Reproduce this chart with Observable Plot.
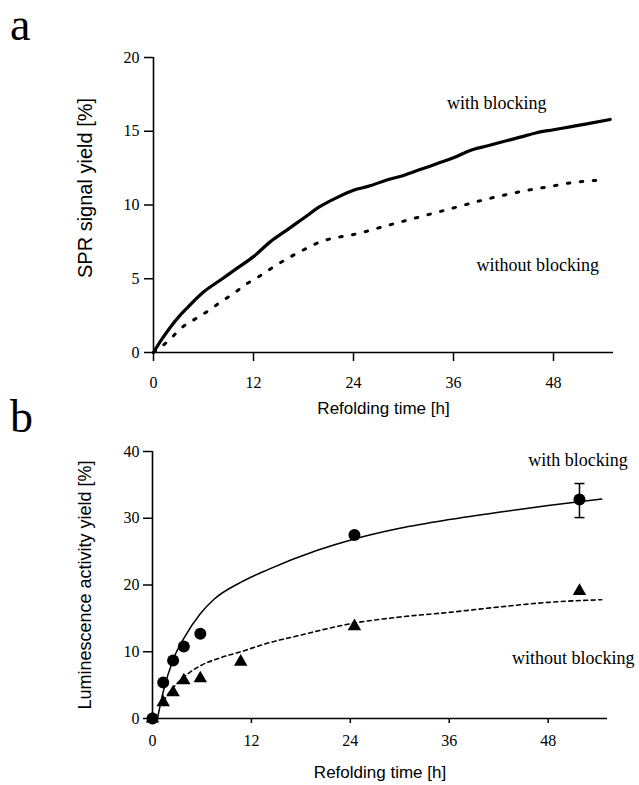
<!DOCTYPE html>
<html>
<head>
<meta charset="utf-8">
<script src="https://cdn.jsdelivr.net/npm/d3@7"></script>
<script src="https://cdn.jsdelivr.net/npm/@observablehq/plot@0.6"></script>
<style>
  html, body { margin: 0; padding: 0; background: white; }
  #root { position: relative; width: 639px; height: 785px; overflow: hidden; background: white; }
  .panel { position: absolute; left: 0; }
  .letter { position: absolute; left: 10px; font-family: "Liberation Serif", serif; font-size: 46px; line-height: 46px; height: 46px; color: #000; }
</style>
</head>
<body>
<div id="root">
  <div class="letter" style="top:2px">a</div>
  <div class="letter" style="top:394px">b</div>
  <div class="panel" id="pa" style="top:0"></div>
  <div class="panel" id="pb" style="top:430px"></div>
</div>
<script>
// ---------- Panel a: SPR signal yield ----------
const aWithTime  = [0, 1, 2, 3, 4, 6, 8, 10, 12, 14, 16, 18, 20, 22, 24, 26, 28, 30, 32, 34, 36, 38, 40, 42, 44, 46, 48, 50, 52, 54.8];
const aWithYield = [0, 0.9, 1.7, 2.4, 3.0, 4.1, 4.9, 5.7, 6.5, 7.5, 8.3, 9.1, 9.9, 10.5, 11.0, 11.3, 11.7, 12.0, 12.4, 12.8, 13.2, 13.7, 14.0, 14.3, 14.6, 14.9, 15.1, 15.3, 15.5, 15.8];
const aWithoutTime  = [0, 2, 3.2, 4.8, 6.5, 8, 9.6, 11.3, 12.8, 14.4, 16.8, 18.5, 20, 22, 24, 28, 32, 36, 40, 44, 48, 50, 54.2];
const aWithoutYield = [0, 0.9, 1.6, 2.2, 2.8, 3.4, 4.0, 4.7, 5.2, 5.8, 6.6, 7.1, 7.5, 7.8, 8.0, 8.6, 9.2, 9.8, 10.4, 10.9, 11.3, 11.5, 11.7];
const aXTicks = [0, 12, 24, 36, 48];
const aYTicks = [0, 5, 10, 15, 20];
const aXLabel = "Refolding time [h]";
const aYLabel = "SPR signal yield [%]";
const aCurveLabels = ["with blocking", "without blocking"];
const aCurveLabelX = [41.2, 46.1];
const aCurveLabelY = [16.9, 5.9];

// ---------- Panel b: Luminescence activity yield ----------
const bWithTime  = [0.6, 1.3, 2.5, 3.8, 5.8, 7.5, 10.7, 14, 20, 24.5, 30, 36, 42, 48, 54.5];
const bWithFit   = [0, 4.0, 8.8, 12.0, 15.7, 17.9, 20.4, 22.3, 25.2, 26.9, 28.5, 29.8, 30.9, 31.9, 32.9];
const bWithoutTime = [1.3, 2.5, 3.8, 5.8, 8, 10.7, 14, 18, 20.3, 24.5, 30, 36, 42, 48, 54.5];
const bWithoutFit  = [2.6, 4.6, 6.2, 7.9, 9.0, 10.0, 11.3, 12.5, 13.2, 14.3, 15.2, 15.9, 16.7, 17.4, 17.8];
const bCircleTime  = [0, 1.3, 2.5, 3.8, 5.8, 24.5, 51.8];
const bCircleYield = [0, 5.4, 8.7, 10.8, 12.7, 27.5, 32.8];
const bTriTime  = [0, 1.3, 2.5, 3.8, 5.8, 10.7, 24.5, 51.8];
const bTriYield = [0, 2.4, 3.9, 5.7, 6.0, 8.5, 13.8, 19.1];
const bErrTime = [51.8];
const bErrLow  = [30.1];
const bErrHigh = [35.2];
const bXTicks = [0, 12, 24, 36, 48];
const bYTicks = [0, 10, 20, 30, 40];
const bXLabel = "Refolding time [h]";
const bYLabel = "Luminescence activity yield [%]";
const bCurveLabels = ["with blocking", "without blocking"];
const bCurveLabelX = [45.6, 43.6];
const bCurveLabelY = [38.7, 9.1];

const zipXY = (xs, ys) => xs.map((x, i) => ({x, y: ys[i]}));
const serif = "'Liberation Serif', 'Times New Roman', serif";
const sans = "'Liberation Sans', Arial, sans-serif";
const capSymbol = {draw(ctx, size) { const r = Math.sqrt(size / Math.PI); ctx.moveTo(-r, 0); ctx.lineTo(r, 0); }};
const baseStyle = {fontFamily: serif, fontSize: "16px", color: "black", background: "transparent", overflow: "visible"};

// Panel a
const plotA = Plot.plot({
  width: 639, height: 430,
  marginTop: 57, marginBottom: 78, marginLeft: 153, marginRight: 26,
  x: {domain: [0, 55.2]},
  y: {domain: [0, 20]},
  style: baseStyle,
  marks: [
    Plot.axisX(aXTicks, {tickSize: 9, tickPadding: 15, label: null, strokeWidth: 1.5, fontSize: 16, fontFamily: serif}),
    Plot.axisY(aYTicks, {tickSize: 9, tickPadding: 5, label: null, strokeWidth: 1.5, fontSize: 16, fontFamily: serif}),
    Plot.ruleY([0], {strokeWidth: 1.6}),
    Plot.ruleX([0], {strokeWidth: 1.6}),
    Plot.line(zipXY(aWithTime, aWithYield), {x: "x", y: "y", strokeWidth: 3.2, curve: "monotone-x"}),
    Plot.line(zipXY(aWithoutTime, aWithoutYield), {x: "x", y: "y", strokeWidth: 3, strokeDasharray: "2.5,10.5", curve: "monotone-x"}),
    Plot.text(aCurveLabels, {x: (d, i) => aCurveLabelX[i], y: (d, i) => aCurveLabelY[i], text: d => d, fontSize: 18, fontFamily: serif, textAnchor: "middle"}),
    Plot.text([aXLabel], {frameAnchor: "bottom", dy: 56, text: d => d, fontSize: 17, fontFamily: sans, lineAnchor: "middle", textAnchor: "middle"}),
    Plot.text([aYLabel], {frameAnchor: "left", dx: -68, dy: -17, rotate: -90, text: d => d, fontSize: 20, fontFamily: sans, lineAnchor: "middle", textAnchor: "middle"})
  ]
});
document.getElementById("pa").append(plotA);

// Panel b
const plotB = Plot.plot({
  width: 639, height: 355,
  marginTop: 21, marginBottom: 67, marginLeft: 152, marginRight: 32,
  x: {domain: [0, 55.2]},
  y: {domain: [0, 40]},
  style: baseStyle,
  marks: [
    Plot.axisX(bXTicks, {tickSize: 5, tickPadding: 11, label: null, strokeWidth: 1.5, fontSize: 16, fontFamily: serif}),
    Plot.axisY(bYTicks, {tickSize: 9, tickPadding: 4, label: null, strokeWidth: 1.5, fontSize: 16, fontFamily: serif}),
    Plot.ruleY([0], {strokeWidth: 1.6}),
    Plot.ruleX([0], {strokeWidth: 1.6}),
    Plot.line(zipXY(bWithTime, bWithFit), {x: "x", y: "y", strokeWidth: 1.5, curve: "monotone-x"}),
    Plot.line(zipXY(bWithoutTime, bWithoutFit), {x: "x", y: "y", strokeWidth: 1.6, strokeDasharray: "4,3.5", curve: "monotone-x"}),
    Plot.ruleX(bErrTime, {x: d => d, y1: (d, i) => bErrLow[i], y2: (d, i) => bErrHigh[i], strokeWidth: 1.5}),
    Plot.dot(bErrTime, {x: d => d, y: (d, i) => bErrLow[i], symbol: capSymbol, r: 5, stroke: "black", strokeWidth: 1.5}),
    Plot.dot(bErrTime, {x: d => d, y: (d, i) => bErrHigh[i], symbol: capSymbol, r: 5, stroke: "black", strokeWidth: 1.5}),
    Plot.dot(zipXY(bCircleTime, bCircleYield), {x: "x", y: "y", r: 6, fill: "black", symbol: "circle"}),
    Plot.dot(zipXY(bTriTime, bTriYield), {x: "x", y: "y", r: 5, fill: "black", symbol: "triangle"}),
    Plot.text(bCurveLabels, {x: (d, i) => bCurveLabelX[i], y: (d, i) => bCurveLabelY[i], text: d => d, fontSize: 18, fontFamily: serif, textAnchor: "start"}),
    Plot.text([bXLabel], {frameAnchor: "bottom", dy: 54, text: d => d, fontSize: 17, fontFamily: sans, lineAnchor: "middle", textAnchor: "middle"}),
    Plot.text([bYLabel], {frameAnchor: "left", dx: -67, rotate: -90, text: d => d, fontSize: 18, fontFamily: sans, lineAnchor: "middle", textAnchor: "middle"})
  ]
});
document.getElementById("pb").append(plotB);
</script>
</body>
</html>
